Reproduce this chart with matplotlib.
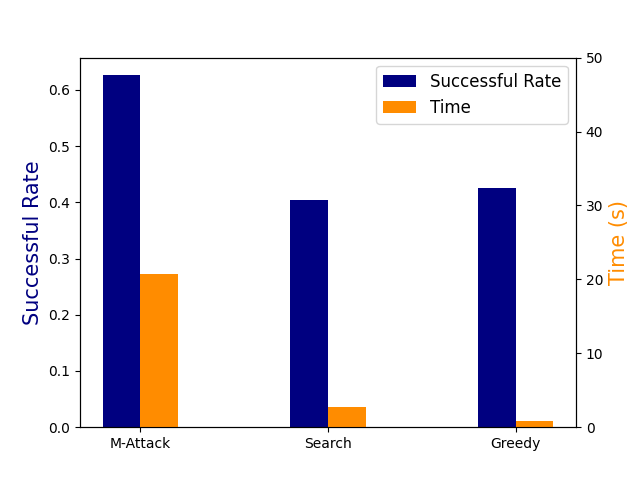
import numpy as np
import matplotlib
matplotlib.use("Agg")
import matplotlib.pyplot as plt

methods = ["M-Attack", "Search", "Greedy"]
success_rate = [0.626, 0.404, 0.425]
time_s = [20.7, 2.7, 0.8]

x = np.arange(len(methods))
width = 0.2

fig, ax1 = plt.subplots(figsize=(6.4, 4.8), dpi=100)
b1 = ax1.bar(x - width / 2, success_rate, width, color="navy", label="Successful Rate")
ax1.set_ylabel("Successful Rate", color="navy", fontsize=15)
ax1.set_xticks(x)
ax1.set_xticklabels(methods)

ax2 = ax1.twinx()
b2 = ax2.bar(x + width / 2, time_s, width, color="darkorange", label="Time")
ax2.set_ylabel("Time (s)", color="darkorange", fontsize=15)
ax2.set_ylim(0, 50)

ax1.legend([b1, b2], ["Successful Rate", "Time"], loc="upper right", fontsize=12)

plt.savefig("out.png")
